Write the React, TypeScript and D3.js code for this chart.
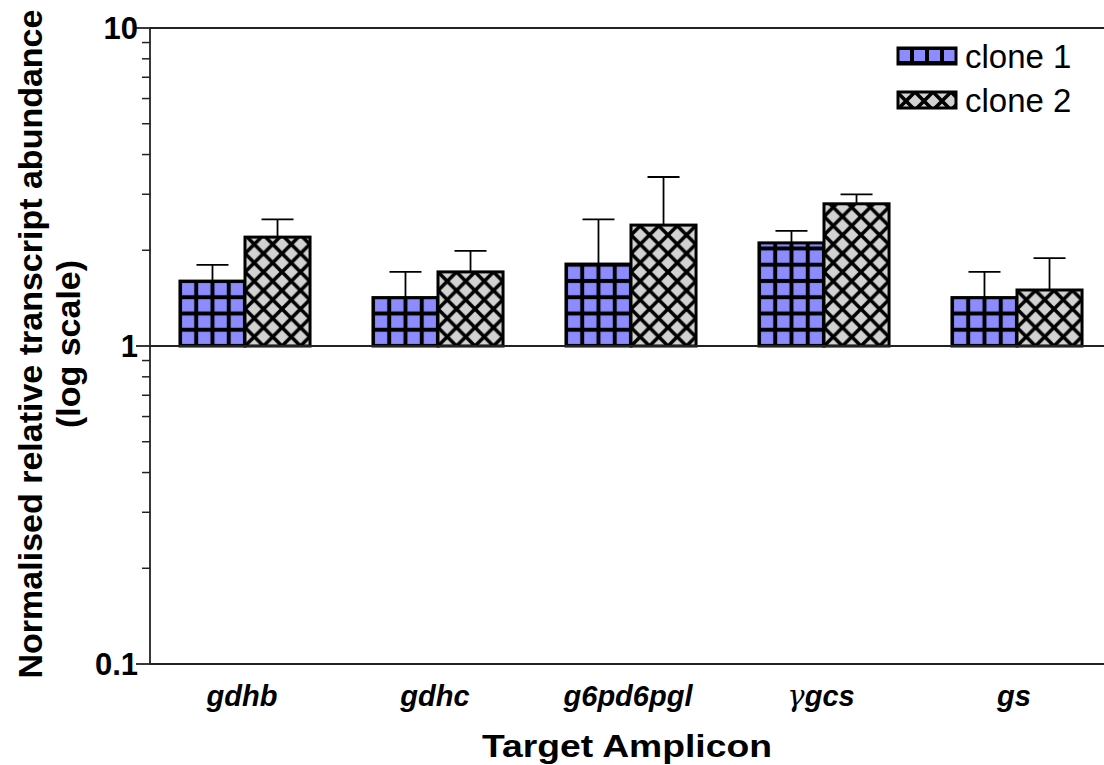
import React, { useEffect, useRef } from 'react';
import * as d3 from 'd3';

// target amplicons and the two clones (mean, upper error)
const categories = ['gdhb', 'gdhc', 'g6pd6pgl', 'γgcs', 'gs'];
const seriesNames = ['clone 1', 'clone 2'];
const clone1 = [1.6, 1.42, 1.81, 2.11, 1.42];
const clone1Err = [0.2, 0.29, 0.69, 0.19, 0.29];
const clone2 = [2.2, 1.71, 2.4, 2.8, 1.5];
const clone2Err = [0.3, 0.28, 1.0, 0.2, 0.39];
const yTicks = [0.1, 1, 10];
const yTickLabels = ['0.1', '1', '10'];

const W = 1104;
const H = 765;
const FONT = '"Liberation Sans", Arial, sans-serif';
const BLUE = '#8c8cff';
const GREY = '#d2d2d2';

const addGrid = (defs, id, x, y, s) => {
  const p = defs.append('pattern').attr('id', id).attr('patternUnits', 'userSpaceOnUse')
    .attr('x', x).attr('y', y).attr('width', s).attr('height', s);
  p.append('rect').attr('width', s).attr('height', s).attr('fill', '#000');
  p.append('rect').attr('x', 2).attr('y', 2).attr('width', s - 4).attr('height', s - 4).attr('fill', BLUE);
};

const addHatch = (defs, id, x, y, t) => {
  const p = defs.append('pattern').attr('id', id).attr('patternUnits', 'userSpaceOnUse')
    .attr('x', x).attr('y', y).attr('width', t).attr('height', t);
  p.append('rect').attr('width', t).attr('height', t).attr('fill', GREY);
  [-t, 0, t].forEach((d) => {
    p.append('path').attr('d', `M${d},0L${d + t},${t}M${d + t},0L${d},${t}`)
      .attr('stroke', '#000').attr('stroke-width', 3.6);
  });
};

const Chart = () => {
  const svgRef = useRef();

  useEffect(() => {
    const svg = d3.select(svgRef.current);
    svg.selectAll('*').remove();

    const left = 150;
    const top = 28;
    const bottom = 664;

    const x0 = d3.scaleBand().domain(categories).range([148.5, 1113.5])
      .paddingInner(0.326).paddingOuter(0.163);
    const x1 = d3.scaleBand().domain(seriesNames).range([0, x0.bandwidth()]);
    const y = d3.scaleLog().domain([0.1, 10]).range([bottom, top]);

    const defs = svg.append('defs');
    const series = [
      { vals: clone1, err: clone1Err },
      { vals: clone2, err: clone2Err },
    ];

    // bars
    series.forEach((s, j) => {
      s.vals.forEach((v, i) => {
        const bx = x0(categories[i]) + x1(seriesNames[j]);
        const id = `pat-${j}-${i}`;
        if (j === 0) addGrid(defs, id, bx, y(1), x1.bandwidth() / 4);
        else addHatch(defs, id, bx, y(1), 18.5);
        // error bar (upper only)
        const cx = bx + x1.bandwidth() / 2;
        svg.append('line').attr('x1', cx).attr('x2', cx)
          .attr('y1', y(v)).attr('y2', y(v + s.err[i]))
          .attr('stroke', '#000').attr('stroke-width', 1.8);
        svg.append('line').attr('x1', cx - 16).attr('x2', cx + 16)
          .attr('y1', y(v + s.err[i])).attr('y2', y(v + s.err[i]))
          .attr('stroke', '#000').attr('stroke-width', 1.8);
        svg.append('rect').attr('x', bx).attr('y', y(v))
          .attr('width', x1.bandwidth()).attr('height', y(1) - y(v))
          .attr('fill', `url(#${id})`).attr('stroke', '#000').attr('stroke-width', 3);
      });
    });

    // horizontal lines at 10, 1 and 0.1
    yTicks.forEach((t) => {
      svg.append('line').attr('x1', left).attr('x2', W).attr('y1', y(t)).attr('y2', y(t))
        .attr('stroke', '#222').attr('stroke-width', 1.8);
    });

    // y axis
    svg.append('line').attr('x1', left).attr('x2', left).attr('y1', top).attr('y2', bottom)
      .attr('stroke', '#222').attr('stroke-width', 1.8);
    const minor = [];
    [0.1, 1].forEach((dec) => { for (let k = 2; k <= 9; k++) minor.push(dec * k); });
    minor.forEach((m) => {
      svg.append('line').attr('x1', left - 8).attr('x2', left).attr('y1', y(m)).attr('y2', y(m))
        .attr('stroke', '#222').attr('stroke-width', 1.5);
    });
    yTicks.forEach((t, i) => {
      svg.append('line').attr('x1', left - 14).attr('x2', left).attr('y1', y(t)).attr('y2', y(t))
        .attr('stroke', '#222').attr('stroke-width', 1.8);
      svg.append('text').attr('x', left - 12).attr('y', y(t)).attr('dy', '0.36em')
        .attr('text-anchor', 'end').attr('font-family', FONT).attr('font-weight', 'bold')
        .attr('font-size', 31).text(yTickLabels[i]);
    });

    // x labels
    categories.forEach((c) => {
      const t = svg.append('text').attr('x', x0(c) + x0.bandwidth() / 2 - 3).attr('y', 706)
        .attr('text-anchor', 'middle').attr('font-family', FONT).attr('font-size', 29)
        .attr('font-style', 'italic').attr('font-weight', 'bold');
      if (c.startsWith('γ')) {
        t.append('tspan').attr('font-weight', 'normal').attr('font-family', '"DejaVu Serif", serif').text('γ');
        t.append('tspan').text(c.slice(1));
      } else {
        t.text(c);
      }
    });

    svg.append('text').attr('x', 627).attr('y', 757).attr('text-anchor', 'middle')
      .attr('font-family', FONT).attr('font-weight', 'bold').attr('font-size', 32)
      .attr('textLength', 290).attr('lengthAdjust', 'spacingAndGlyphs')
      .text('Target Amplicon');

    // y title
    const yt = svg.append('g').attr('transform', `translate(0, ${y(1) - 2}) rotate(-90)`);
    yt.append('text').attr('x', 0).attr('y', 42).attr('text-anchor', 'middle')
      .attr('font-family', FONT).attr('font-weight', 'bold').attr('font-size', 34)
      .text('Normalised relative transcript abundance');
    yt.append('text').attr('x', 0).attr('y', 80).attr('text-anchor', 'middle')
      .attr('font-family', FONT).attr('font-weight', 'bold').attr('font-size', 34)
      .text('(log scale)');

    // legend
    const legY = [48, 92];
    seriesNames.forEach((n, j) => {
      const id = `leg-${j}`;
      if (j === 0) addGrid(defs, id, 897, legY[j], 15);
      else addHatch(defs, id, 897, legY[j], 18);
      svg.append('rect').attr('x', 898).attr('y', legY[j]).attr('width', 58).attr('height', 16)
        .attr('fill', `url(#${id})`).attr('stroke', '#000').attr('stroke-width', 3);
      svg.append('text').attr('x', 965).attr('y', legY[j] + 8).attr('dy', '0.36em')
        .attr('font-family', FONT).attr('font-size', 33).text(n);
    });
  }, []);

  return <svg ref={svgRef} width={W} height={H} style={{ display: 'block', background: '#fff' }}></svg>;
};

export default function App() {
  return (
    <div style={{ position: 'absolute', left: 0, top: 0 }}>
      <Chart />
    </div>
  );
}
